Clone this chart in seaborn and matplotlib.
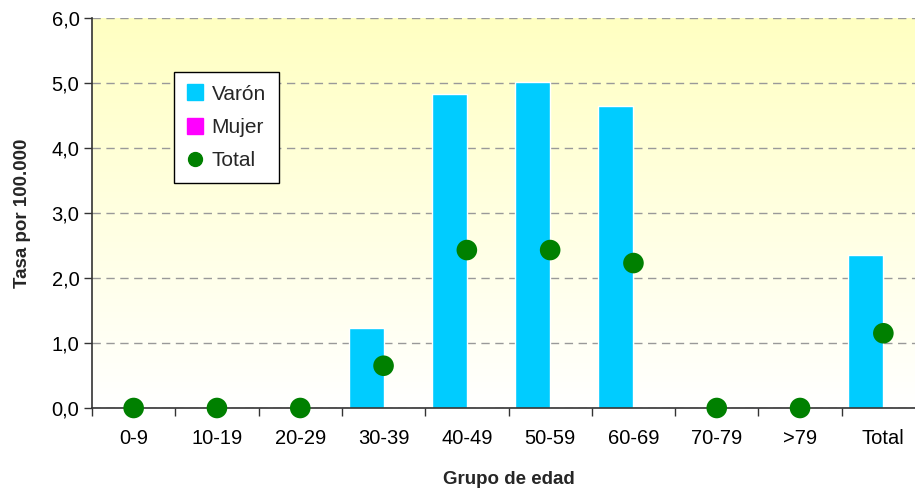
import numpy as np
import pandas as pd
import matplotlib
matplotlib.use("Agg")
import matplotlib.pyplot as plt
from matplotlib.lines import Line2D
from matplotlib.ticker import FixedLocator, FuncFormatter
import seaborn as sns

# datos
grupos = ["0-9", "10-19", "20-29", "30-39", "40-49", "50-59", "60-69", "70-79", ">79", "Total"]
varon = [0, 0, 0, 1.23, 4.83, 5.02, 4.65, 0, 0, 2.35]
mujer = [0, 0, 0, 0, 0, 0, 0, 0, 0, 0]
total = [0, 0, 0, 0.65, 2.43, 2.43, 2.23, 0, 0, 1.15]

sns.set_theme(style="white")
plt.rcParams['font.family'] = ['Liberation Sans', 'DejaVu Sans']

df = pd.DataFrame({
    "Grupo": grupos * 2,
    "Sexo": ["Varón"] * len(grupos) + ["Mujer"] * len(grupos),
    "Tasa": varon + mujer,
})

fig = plt.figure(figsize=(9.15, 4.93), dpi=100)
ax = fig.add_axes([92 / 915, 85 / 493, 833 / 915, 390 / 493])

# fondo degradado amarillo -> blanco
grad = np.linspace(0, 1, 256)[:, None]
top = np.array([1.0, 1.0, 0.76])
bot = np.array([1.0, 1.0, 1.0])
img = (top * grad[..., None] + bot * (1 - grad[..., None]))
ax.imshow(img, extent=(-0.5, 9.5, 0, 6), aspect="auto", origin="lower", zorder=0)

sns.barplot(data=df, x="Grupo", y="Tasa", hue="Sexo", order=grupos,
            hue_order=["Varón", "Mujer"],
            palette={"Varón": "#00CCFF", "Mujer": "#FF00FF"},
            width=0.84, saturation=1, legend=False, ax=ax, zorder=2)
sns.scatterplot(x=grupos, y=total, color="#008000", s=220, edgecolor="none",
                zorder=4, clip_on=False, legend=False, ax=ax)

ax.set_xlim(-0.5, 9.5)
ax.set_ylim(0, 6)
ax.set_axisbelow(True)
ax.yaxis.grid(True, linestyle=(0, (6, 4)), color="#999999", linewidth=1, zorder=1)
ax.set_yticks(np.arange(0, 7, 1))
ax.yaxis.set_major_formatter(FuncFormatter(lambda v, p: f"{v:.1f}".replace(".", ",")))
ax.xaxis.set_minor_locator(FixedLocator(np.arange(-0.5, 10, 1)))
ax.tick_params(axis="x", which="major", length=0, labelsize=14.5, pad=15, colors="black")
ax.tick_params(axis="x", which="minor", length=6, width=1, direction="out", color="#333333", bottom=True)
ax.tick_params(axis="y", length=6, width=1, direction="out", left=True, labelsize=14.5, colors="black", pad=3)
ax.tick_params(axis="y", color="#333333")

for s in ["top", "right"]:
    ax.spines[s].set_visible(False)
for s in ["left", "bottom"]:
    ax.spines[s].set_color("#333333")
    ax.spines[s].set_linewidth(1.2)

ax.set_xlabel("Grupo de edad", fontsize=13.5, fontweight="bold", labelpad=17)
ax.set_ylabel("Tasa por 100.000", fontsize=13.5, fontweight="bold", labelpad=15)

handles = [
    Line2D([], [], marker="s", linestyle="none", color="#00CCFF", markersize=11),
    Line2D([], [], marker="s", linestyle="none", color="#FF00FF", markersize=11),
    Line2D([], [], marker="o", linestyle="none", color="#008000", markersize=10),
]
leg = ax.legend(handles, ["Varón", "Mujer", "Total"], loc="upper left",
                bbox_to_anchor=(0.098, 0.862), fontsize=15, frameon=True,
                fancybox=False, framealpha=1, edgecolor="black",
                handlelength=0.8, handletextpad=0.4, labelspacing=0.68,
                borderpad=0.62, borderaxespad=0)
leg.get_frame().set_linewidth(1)

fig.savefig("out.png", dpi=100)
